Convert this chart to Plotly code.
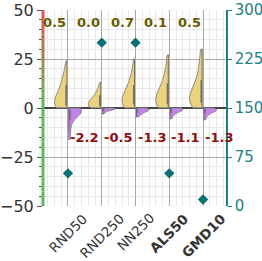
import plotly.graph_objects as go

categories = ["RND50", "RND250", "NN250", "ALS50", "GMD10"]
tick_labels = ["RND50", "RND250", "NN250", "<b>ALS50</b>", "<b>GMD10</b>"]
positions = [0, 1, 2, 3, 4]

pos_values = [
    [0.1, 0.3, 0.5, 0.8, 1.2, 1.8, 2.5, 3.2, 4, 5, 6, 7.5, 9, 10.5, 12, 14, 16, 19, 24],
    [0.1, 0.3, 0.5, 0.8, 1.2, 1.6, 2, 2.5, 3, 3.6, 4.3, 5, 6, 7, 8.5, 10, 13],
    [0.1, 0.4, 0.9, 1.4, 2, 2.7, 3.5, 4.5, 5.5, 6.5, 8, 9.5, 11, 13, 15.5, 19, 25],
    [0.1, 0.5, 1, 1.5, 2.2, 3, 3.8, 4.8, 6, 7, 8.5, 10, 12, 14, 17, 21, 27],
    [0.1, 0.7, 1.2, 2, 2.8, 3.6, 4.5, 5.5, 6.5, 7.5, 8.5, 10, 12, 14, 17, 21, 25, 30],
]
neg_values = [
    [-0.05, -0.3, -0.5, -0.8, -1.2, -1.6, -2.2, -3, -4, -5.5, -8, -12, -16],
    [-0.05, -0.1, -0.2, -0.3, -0.4, -0.5, -0.7, -0.9, -1.2, -1.6, -2.2, -3],
    [-0.05, -0.2, -0.4, -0.6, -0.9, -1.3, -1.8, -2.4, -3.2, -4.5],
    [-0.05, -0.2, -0.4, -0.6, -0.9, -1.1, -1.5, -2, -2.8, -4, -5.5],
    [-0.05, -0.3, -0.5, -0.8, -1.0, -1.3, -1.7, -2.3, -3, -4.2, -6],
]
top_labels = ["0.5", "0.0", "0.7", "0.1", "0.5"]
bottom_labels = ["-2.2", "-0.5", "-1.3", "-1.1", "-1.3"]
marker_values = [50, 250, 250, 50, 10]

FONT = "DejaVu Sans"
TEAL = "#1f7f86"

fig = go.Figure()

for i, (p, vals) in enumerate(zip(positions, pos_values)):
    fig.add_trace(go.Violin(
        x=[p] * len(vals), y=vals, side="negative", width=0.8, spanmode="hard",
        scalegroup="pos%d" % i, scalemode="width",
        fillcolor="#ead27f", line=dict(color="#8a8a8a", width=1), opacity=1,
        points=False,
        box=dict(visible=True, width=0.16, fillcolor="#6e6e6e", line=dict(color="#6e6e6e", width=1)),
        meanline=dict(visible=False), hoverinfo="skip",
    ))
for i, (p, vals) in enumerate(zip(positions, neg_values)):
    fig.add_trace(go.Violin(
        x=[p] * len(vals), y=vals, side="positive", width=0.8, spanmode="hard",
        scalegroup="neg%d" % i, scalemode="width",
        fillcolor="#c481ec", line=dict(color="#8a8a8a", width=1), opacity=1,
        points=False,
        box=dict(visible=True, width=0.16, fillcolor="#6e6e6e", line=dict(color="#6e6e6e", width=1)),
        meanline=dict(visible=False), hoverinfo="skip",
    ))

fig.add_trace(go.Scatter(
    x=positions, y=marker_values, yaxis="y2", mode="markers",
    marker=dict(symbol="diamond", size=8, color="#0b6f74"),
    hoverinfo="skip",
))

for p, t in zip(positions, top_labels):
    fig.add_annotation(x=p, y=43.5, text="<b>%s</b>" % t, showarrow=False,
                       xanchor="right", yanchor="middle",
                       font=dict(family=FONT, size=13, color="#6b5a00"))
for p, t in zip(positions, bottom_labels):
    fig.add_annotation(x=p, y=-14.8, text="<b>%s</b>" % t, showarrow=False,
                       xanchor="left", yanchor="middle",
                       font=dict(family=FONT, size=13, color="#8f0f0f"))

# category labels, rotated and centred under each category
for p, t in zip(positions, tick_labels):
    fig.add_annotation(x=p, xref="x", y=0, yref="paper", text=t, showarrow=False,
                       textangle=-45, xanchor="center", yanchor="top", yshift=-3,
                       borderpad=0,
                       font=dict(family=FONT, size=13.5, color="#333"))

# gradient left axis line
n = 40
for i in range(n):
    y0 = 50 - 100 * i / n
    y1 = 50 - 100 * (i + 1) / n
    ym = (y0 + y1) / 2
    f = ym / 50.0 if ym >= 0 else 0.0
    r = int(90 + (235 - 90) * f)
    g = int(185 + (75 - 185) * f)
    b = int(90 + (75 - 90) * f)
    fig.add_shape(type="line", xref="paper", yref="y", x0=0, x1=0, y0=y0, y1=y1,
                  line=dict(color="rgb(%d,%d,%d)" % (r, g, b), width=3), layer="above")

fig.update_layout(
    width=262, height=261,
    margin=dict(l=43, r=36, t=10, b=55, autoexpand=False),
    plot_bgcolor="white", paper_bgcolor="white",
    showlegend=False, violinmode="overlay",
    font=dict(family=FONT, color="#333"),
    xaxis=dict(
        range=[-0.74, 4.68], tickmode="array", tickvals=positions, showticklabels=False,
        automargin=False,
        showgrid=True, gridcolor="#a8a8a8", gridwidth=1,
        minor=dict(dtick=0.2, tick0=0, showgrid=True, gridcolor="#e8e8e8"),
        zeroline=False, showline=False, ticks="",
    ),
    yaxis=dict(
        range=[-50, 50], tickvals=[-50, -25, 0, 25, 50],
        ticktext=["\u221250", "\u221225", "0", "25", "50"],
        tickfont=dict(size=16, color="#333"), automargin=False,
        showgrid=True, gridcolor="#a8a8a8",
        minor=dict(dtick=5, showgrid=True, gridcolor="#e8e8e8", ticks="outside", ticklen=3, tickcolor="#555"),
        ticks="outside", ticklen=5, tickcolor="#555",
        zeroline=True, zerolinecolor="#444", zerolinewidth=1.5,
        showline=False,
    ),
    yaxis2=dict(
        range=[0, 300], tickvals=[0, 75, 150, 225, 300], overlaying="y", side="right",
        tickfont=dict(size=15, color=TEAL), showgrid=False, zeroline=False, automargin=False,
        showline=True, linecolor=TEAL, linewidth=1.5,
        ticks="outside", ticklen=4, tickcolor=TEAL,
    ),
)

fig.write_html("out.html", config={"displayModeBar": False},
               post_script="document.body.style.margin='0';")
